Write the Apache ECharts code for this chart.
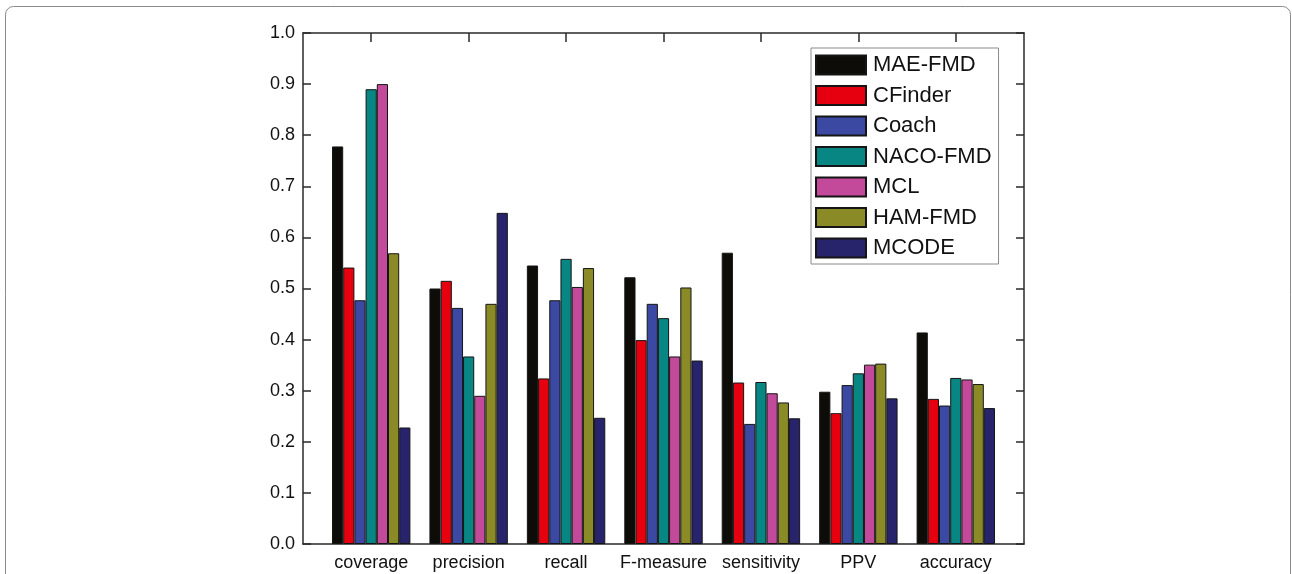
<!DOCTYPE html>
<html>
<head>
<meta charset="utf-8">
<script src="https://cdn.jsdelivr.net/npm/echarts@6/dist/echarts.min.js"></script>
<style>
html,body{margin:0;padding:0;background:#fff;}
#chart{width:1292px;height:574px;}
</style>
</head>
<body>
<div id="chart"></div>
<script>
// ---- data ----
const categories = ['coverage', 'precision', 'recall', 'F-measure', 'sensitivity', 'PPV', 'accuracy'];
const seriesNames = ['MAE-FMD', 'CFinder', 'Coach', 'NACO-FMD', 'MCL', 'HAM-FMD', 'MCODE'];
const maeFmd  = [0.778, 0.500, 0.545, 0.522, 0.570, 0.298, 0.414];
const cfinder = [0.541, 0.515, 0.324, 0.399, 0.316, 0.256, 0.284];
const coach   = [0.477, 0.462, 0.477, 0.470, 0.235, 0.311, 0.271];
const nacoFmd = [0.890, 0.367, 0.558, 0.442, 0.317, 0.334, 0.325];
const mcl     = [0.900, 0.290, 0.503, 0.367, 0.295, 0.351, 0.322];
const hamFmd  = [0.569, 0.470, 0.540, 0.502, 0.277, 0.353, 0.313];
const mcode   = [0.228, 0.648, 0.247, 0.359, 0.246, 0.285, 0.266];
const yTicks = [0, 0.1, 0.2, 0.3, 0.4, 0.5, 0.6, 0.7, 0.8, 0.9, 1.0];

const allValues = [maeFmd, cfinder, coach, nacoFmd, mcl, hamFmd, mcode];
const colors = ['#0e0c08', '#e6000f', '#3c49a2', '#088683', '#c34a9b', '#8a8a26', '#27246c'];
const positions = categories.map((c, i) => i + 1);

const chart = echarts.init(document.getElementById('chart'));
const font = 'Liberation Sans, Arial, sans-serif';
const axisColor = '#2a2a2a';

const series = seriesNames.map((name, s) => ({
  name: name,
  type: 'bar',
  xAxisIndex: 0,
  yAxisIndex: 0,
  barWidth: 11.2,
  barGap: '0%',
  itemStyle: { color: colors[s], borderColor: '#151515', borderWidth: 1 },
  data: positions.map((p, i) => [p, allValues[s][i]])
}));

chart.setOption({
  animation: false,
  backgroundColor: '#ffffff',
  graphic: [{
    type: 'rect',
    shape: { x: 5.5, y: 6.5, width: 1285, height: 620, r: 8 },
    style: { fill: 'none', stroke: '#8a8a8a', lineWidth: 1 },
    silent: true,
    z: -10
  }],
  grid: { left: 303, top: 33, right: 268, bottom: 30, containLabel: false },
  legend: {
    orient: 'vertical',
    left: 811,
    top: 48,
    padding: [6, 7, 5, 4],
    itemWidth: 50,
    itemHeight: 19,
    itemGap: 8.5,
    icon: 'rect',
    borderColor: '#8a8a8a',
    borderWidth: 1,
    backgroundColor: '#fff',
    data: seriesNames,
    textStyle: { fontFamily: font, fontSize: 22, color: '#111', lineHeight: 19, padding: [0, 0, 0, 2] }
  },
  xAxis: [{
    type: 'value',
    position: 'bottom',
    min: 0.3,
    max: 7.7,
    splitLine: { show: false },
    axisLine: { show: true, onZero: false, lineStyle: { color: axisColor, width: 1.5 } },
    axisTick: { show: true, inside: true, length: 9, customValues: positions, lineStyle: { color: axisColor, width: 1.5 } },
    axisLabel: {
      customValues: positions,
      formatter: v => categories[Math.round(v) - 1] || '',
      fontFamily: font, fontSize: 18, color: '#111', margin: 10
    }
  }, {
    type: 'value',
    position: 'top',
    min: 0.3,
    max: 7.7,
    splitLine: { show: false },
    axisLine: { show: true, onZero: false, lineStyle: { color: axisColor, width: 1.5 } },
    axisTick: { show: true, inside: true, length: 9, customValues: positions, lineStyle: { color: axisColor, width: 1.5 } },
    axisLabel: { show: false }
  }],
  yAxis: [{
    type: 'value',
    position: 'left',
    min: 0,
    max: 1,
    interval: 0.1,
    splitLine: { show: false },
    axisLine: { show: true, onZero: false, lineStyle: { color: axisColor, width: 1.5 } },
    axisTick: { show: true, inside: true, length: 8, lineStyle: { color: axisColor, width: 1.5 } },
    axisLabel: {
      formatter: v => v.toFixed(1),
      fontFamily: font, fontSize: 18, color: '#111', margin: 8
    }
  }, {
    type: 'value',
    position: 'right',
    min: 0,
    max: 1,
    interval: 0.1,
    splitLine: { show: false },
    axisLine: { show: true, onZero: false, lineStyle: { color: axisColor, width: 1.5 } },
    axisTick: { show: true, inside: true, length: 8, lineStyle: { color: axisColor, width: 1.5 } },
    axisLabel: { show: false }
  }],
  series: series
});
</script>
</body>
</html>
